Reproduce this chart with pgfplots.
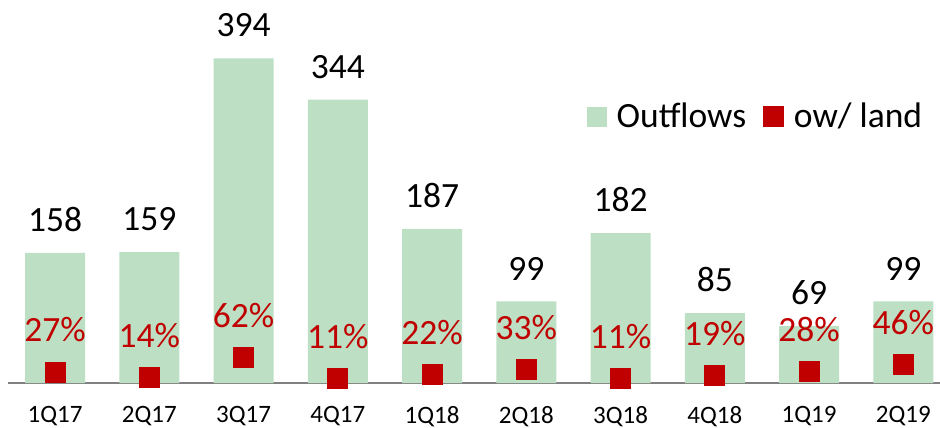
\documentclass[border=0pt]{standalone}
\usepackage{fontspec}
\setmainfont{Carlito}
\usepackage{pgfplots}
\usepackage{pgfplotstable}
\pgfplotsset{compat=1.18}

\definecolor{barGreen}{RGB}{189,223,196}
\definecolor{landRed}{RGB}{192,0,0}
\definecolor{axisGray}{RGB}{128,128,128}

% quarterly outflows and share with land
\pgfplotstableread{
idx q    outflows land
0   1Q17 158      27
1   2Q17 159      14
2   3Q17 394      62
3   4Q17 344      11
4   1Q18 187      22
5   2Q18 99       33
6   3Q18 182      11
7   4Q18 85       19
8   1Q19 69       28
9   2Q19 99       46
}\datatable

\begin{document}
\begin{tikzpicture}
\pgfplotsset{
  base/.style={
    scale only axis,
    width=466pt, height=191.5pt,
    xmin=-0.5, xmax=9.39, ymin=0,
    clip=false,
    /pgf/number format/assume math mode=true,
  },
}
\begin{axis}[
    base,
    ymax=465,
    axis x line=bottom,
    axis y line=none,
    x axis line style={-, draw=axisGray, line width=1pt},
    xtick={0,...,9},
    xticklabels from table={\datatable}{q},
    major tick length=0pt,
    xticklabel style={font=\fontsize{12.5}{15}\selectfont, yshift=-8pt},
    ytick=\empty,
]
\addplot[ybar, bar width=30pt, fill=barGreen, draw=none,
    point meta=explicit,
    nodes near coords={\pgfmathprintnumber[fixed,precision=0,assume math mode=true]{\pgfplotspointmeta}},
    every node near coord/.append style={font=\fontsize{17.75}{20}\selectfont, text=black,
        anchor=south, inner sep=0pt, yshift=10.5pt}]
    table[x=idx, y=outflows, meta=outflows]{\datatable};
\coordinate (bl) at (rel axis cs:0,0);
\coordinate (tr) at (rel axis cs:1,1);
\end{axis}

\begin{axis}[
    base,
    ymax=940,
    hide axis,
    legend columns=-1,
    legend style={draw=none, fill=none, at={(0.992,0.695)}, anchor=east,
        font=\fontsize{17.75}{20}\selectfont,
        /tikz/every odd column/.append style={column sep=3pt},
        /tikz/every even column/.append style={column sep=6.5pt}},
    legend image code/.code={\fill[#1] (0pt,-5pt) rectangle (10pt,5pt);},
]
\addlegendimage{fill=barGreen, draw=none}
\addlegendentry{Outflows}
\addplot[only marks, mark=square*, mark size=5pt, color=landRed, fill=landRed,
    point meta=explicit,
    nodes near coords={\pgfmathprintnumber[fixed,precision=0,assume math mode=true]{\pgfplotspointmeta}\%},
    every node near coord/.append style={font=\fontsize{17.75}{20}\selectfont, text=landRed,
        anchor=center, inner sep=0pt, yshift=21pt}]
    table[x=idx, y=land, meta=land]{\datatable};
\addlegendentry{ow/ land}
\end{axis}

\pgfresetboundingbox
\path[use as bounding box] ([xshift=-4pt,yshift=-22pt]bl) rectangle (tr);
\end{tikzpicture}
\end{document}
